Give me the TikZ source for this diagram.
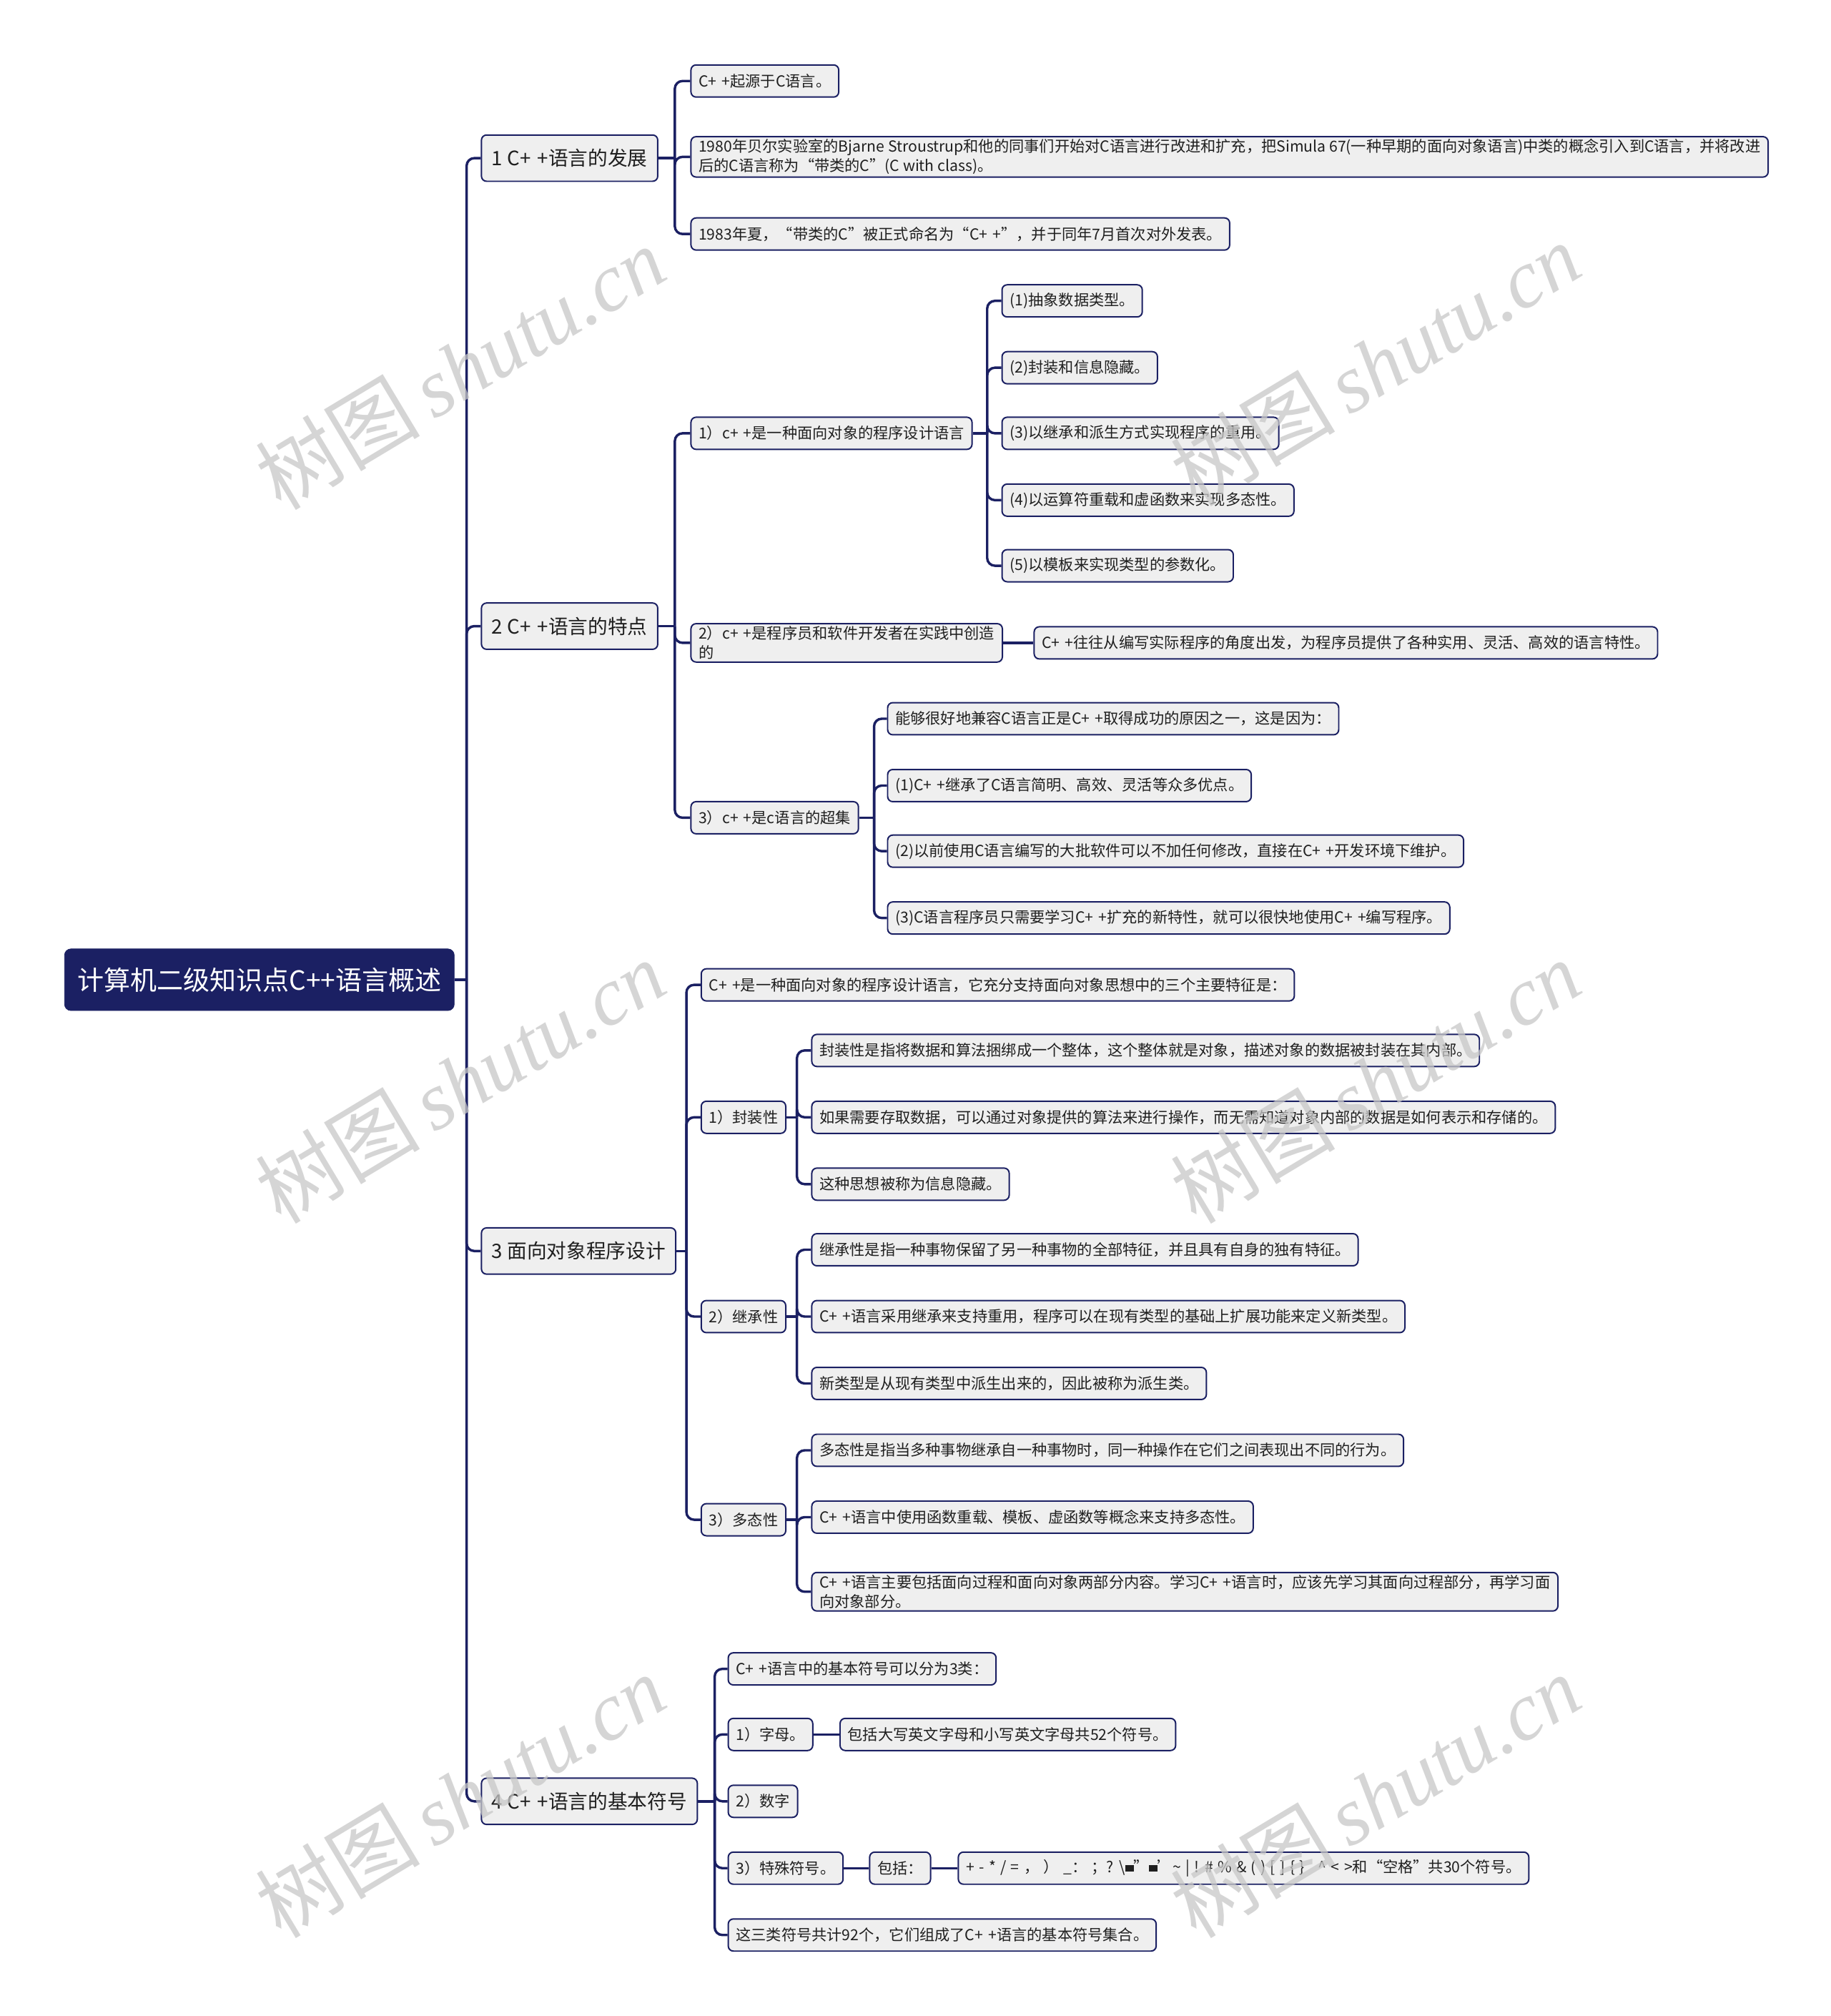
\documentclass[tikz,border=0pt]{standalone}
\usepackage{fontspec}
\setmainfont{Noto Sans CJK SC}
\newfontfamily\wmlatin{Liberation Serif}
\definecolor{navy}{HTML}{1B2063}
\definecolor{boxfill}{HTML}{EFEFEF}
\definecolor{wm}{HTML}{C8C8C8}
\newcommand\blk{\rule[0.05em]{0.55em}{0.45em}}
\newcommand\pp{+\hspace{0.34em}+}
\newcommand\branch[3]{\draw[conn] (#1.east -| #2) |- (#3.west);}
\newcommand\stub[2]{\draw[conn] (#1.east) -- (#1.east -| #2);}
\begin{document}
\begin{tikzpicture}[x=1pt,y=-1pt,
  box/.style={draw=navy, line width=1.1pt, fill=boxfill, rounded corners=4pt, anchor=west,
    inner xsep=6pt, inner ysep=2pt, minimum height=25pt, text=black!88, align=left,
    font=\fontsize{11.8}{15}\selectfont},
  lone/.style={box, minimum height=36pt, inner xsep=8pt, font=\fontsize{15.4}{18}\selectfont},
  rootbox/.style={fill=navy, draw=navy, rounded corners=5pt, anchor=west, inner xsep=10pt,
    minimum height=48pt, text=white, font=\fontsize{20.6}{24}\selectfont},
  conn/.style={draw=navy, line width=1.9pt, rounded corners=6pt},
  wmark/.style={text=wm, opacity=0.75, rotate=31, anchor=center, inner sep=0pt},
]
\fill[white] (0,0) rectangle (1424,1568);
\useasboundingbox (0,0) rectangle (1424,1568);

% trunk coordinates
\coordinate (t0) at (363,0);
\coordinate (t1) at (525,0);
\coordinate (t2) at (525,0);
\coordinate (t2a) at (768,0);
\coordinate (t2c) at (680,0);
\coordinate (t3) at (534,0);
\coordinate (t3a) at (620,0);
\coordinate (t4) at (556,0);

% root and level 1
\node[rootbox] (root) at (50,762) {计算机二级知识点C++语言概述};
\node[lone] (n1) at (374,123) {1 C\pp 语言的发展};
\node[lone] (n2) at (374,487) {2 C\pp 语言的特点};
\node[lone] (n3) at (374,973) {3 面向对象程序设计};
\node[lone] (n4) at (374,1401) {4 C\pp 语言的基本符号};

% section 1
\node[box] (a1) at (537,63) {C\pp 起源于C语言。};
\node[box] (a2) at (537,122) {1980年贝尔实验室的Bjarne Stroustrup和他的同事们开始对C语言进行改进和扩充，把Simula 67(一种早期的面向对象语言)中类的概念引入到C语言，并将改进\\后的C语言称为“带类的C”(C with class)。};
\node[box] (a3) at (537,182) {1983年夏，“带类的C”被正式命名为“C\pp”，并于同年7月首次对外发表。};

% section 2
\node[box] (b1) at (537,337) {1）c\pp 是一种面向对象的程序设计语言};
\node[box] (b2) at (537,500) {2）c\pp 是程序员和软件开发者在实践中创造\\的};
\node[box] (b3) at (537,636) {3）c\pp 是c语言的超集};
\node[box] (b1a) at (779,234) {(1)抽象数据类型。};
\node[box] (b1b) at (779,286) {(2)封装和信息隐藏。};
\node[box] (b1c) at (779,337) {(3)以继承和派生方式实现程序的重用。};
\node[box] (b1d) at (779,389) {(4)以运算符重载和虚函数来实现多态性。};
\node[box] (b1e) at (779,440) {(5)以模板来实现类型的参数化。};
\node[box] (b2a) at (804,500) {C\pp 往往从编写实际程序的角度出发，为程序员提供了各种实用、灵活、高效的语言特性。};
\node[box] (b3a) at (690,559) {能够很好地兼容C语言正是C\pp 取得成功的原因之一，这是因为：};
\node[box] (b3b) at (690,611) {(1)C\pp 继承了C语言简明、高效、灵活等众多优点。};
\node[box] (b3c) at (690,662) {(2)以前使用C语言编写的大批软件可以不加任何修改，直接在C\pp 开发环境下维护。};
\node[box] (b3d) at (690,714) {(3)C语言程序员只需要学习C\pp 扩充的新特性，就可以很快地使用C\pp 编写程序。};

% section 3
\node[box] (c0) at (545,766) {C\pp 是一种面向对象的程序设计语言，它充分支持面向对象思想中的三个主要特征是：};
\node[box] (c1) at (545,869) {1）封装性};
\node[box] (c2) at (545,1024) {2）继承性};
\node[box] (c3) at (545,1182) {3）多态性};
\node[box] (c1a) at (631,817) {封装性是指将数据和算法捆绑成一个整体，这个整体就是对象，描述对象的数据被封装在其内部。};
\node[box] (c1b) at (631,869) {如果需要存取数据，可以通过对象提供的算法来进行操作，而无需知道对象内部的数据是如何表示和存储的。};
\node[box] (c1c) at (631,921) {这种思想被称为信息隐藏。};
\node[box] (c2a) at (631,972) {继承性是指一种事物保留了另一种事物的全部特征，并且具有自身的独有特征。};
\node[box] (c2b) at (631,1024) {C\pp 语言采用继承来支持重用，程序可以在现有类型的基础上扩展功能来定义新类型。};
\node[box] (c2c) at (631,1076) {新类型是从现有类型中派生出来的，因此被称为派生类。};
\node[box] (c3a) at (631,1128) {多态性是指当多种事物继承自一种事物时，同一种操作在它们之间表现出不同的行为。};
\node[box] (c3b) at (631,1180) {C\pp 语言中使用函数重载、模板、虚函数等概念来支持多态性。};
\node[box] (c3c) at (631,1238) {C\pp 语言主要包括面向过程和面向对象两部分内容。学习C\pp 语言时，应该先学习其面向过程部分，再学习面\\向对象部分。};

% section 4
\node[box] (d0) at (566,1298) {C\pp 语言中的基本符号可以分为3类：};
\node[box] (d1) at (566,1349) {1）字母。};
\node[box] (d2) at (566,1401) {2）数字};
\node[box] (d3) at (566,1453) {3）特殊符号。};
\node[box] (d4) at (566,1505) {这三类符号共计92个，它们组成了C\pp 语言的基本符号集合。};
\node[box] (d1a) at (653,1349) {包括大写英文字母和小写英文字母共52个符号。};
\node[box] (d3a) at (676,1453) {包括：};
\node[box] (d3b) at (745,1453) {\spaceskip=0.3em\relax + - * / = ，\ ）\ \_：\ ；? \textbackslash\blk"\blk'\textasciitilde{} | ! \# \% \& ( ) [ ] \{ \}\ \ \ \^{} < >和“空格”共30个符号。};

% connectors: root to level 1
\stub{root}{t0}
\foreach \c in {n1,n2,n3,n4} {\branch{root}{t0}{\c}}
% section 1
\stub{n1}{t1}
\foreach \c in {a1,a2,a3} {\branch{n1}{t1}{\c}}
% section 2
\stub{n2}{t2}
\foreach \c in {b1,b2,b3} {\branch{n2}{t2}{\c}}
\stub{b1}{t2a}
\foreach \c in {b1a,b1b,b1c,b1d,b1e} {\branch{b1}{t2a}{\c}}
\draw[conn] (b2.east) -- (b2.east -| b2a.west);
\stub{b3}{t2c}
\foreach \c in {b3a,b3b,b3c,b3d} {\branch{b3}{t2c}{\c}}
% section 3
\stub{n3}{t3}
\foreach \c in {c0,c1,c2,c3} {\branch{n3}{t3}{\c}}
\stub{c1}{t3a}
\foreach \c in {c1a,c1b,c1c} {\branch{c1}{t3a}{\c}}
\stub{c2}{t3a}
\foreach \c in {c2a,c2b,c2c} {\branch{c2}{t3a}{\c}}
\stub{c3}{t3a}
\foreach \c in {c3a,c3b,c3c} {\branch{c3}{t3a}{\c}}
% section 4
\stub{n4}{t4}
\foreach \c in {d0,d1,d2,d3,d4} {\branch{n4}{t4}{\c}}
\draw[conn] (d1.east) -- (d1.east -| d1a.west);
\draw[conn] (d3.east) -- (d3.east -| d3a.west);
\draw[conn] (d3a.east) -- (d3a.east -| d3b.west);

% watermarks
\foreach \wx/\wy [count=\i] in {358/286, 1070/283, 358/841, 1070/841, 358/1397, 1070/1397} {
  \node[wmark] (wm\i) at (\wx,\wy) {\fontsize{64}{64}\selectfont 树图\,{\wmlatin\itshape shutu.cn}};
}
\end{tikzpicture}
\end{document}
